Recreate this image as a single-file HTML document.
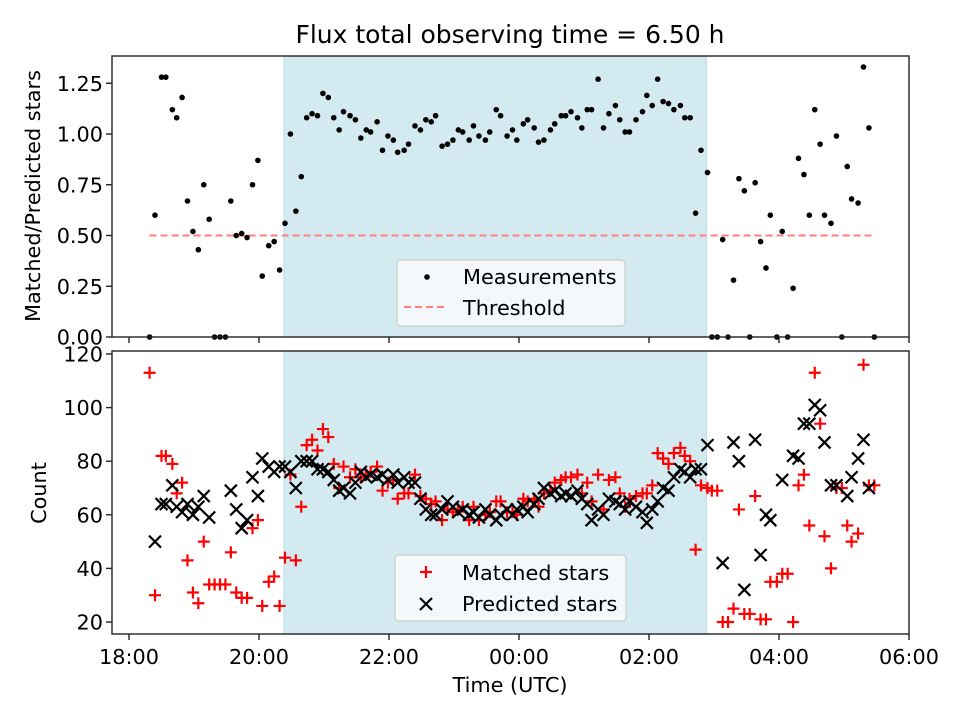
<!DOCTYPE html>
<html><head><meta charset="utf-8"><style>
html,body{margin:0;padding:0;background:#fff;}
svg{display:block;font-family:"DejaVu Sans","Liberation Sans",sans-serif;}
</style></head><body>
<svg id="chart" width="960" height="720" viewBox="0 0 960 720" xmlns="http://www.w3.org/2000/svg">
<rect width="960" height="720" fill="#fff"/>
<text x="510" y="43" font-size="25" text-anchor="middle">Flux total observing time = 6.50 h</text>
<g id="topPanel"></g><g id="botPanel"></g>
<text transform="translate(40,196) rotate(-90)" font-size="20.8" text-anchor="middle">Matched/Predicted stars</text>
<text transform="translate(46,493) rotate(-90)" font-size="20.8" text-anchor="middle">Count</text>
<text x="510" y="692" font-size="20.8" text-anchor="middle">Time (UTC)</text>
</svg>
<script>
// minutes since 18:00
const times = [19,24,30,34,40,44,49,54,59,64,69,74,79,84,89,94,99,104,109,114,119,123,129,134,139,144,149,154,159,164,169,174,179,184,
189,194,198,204,209,214,219,223,229,234,239,244,248,254,258,264,269,274,279,283,289,294,299,304,308,314,318,323,329,333,339,343,349,354,358,364,368,374,378,383,389,393,399,403,408,414,418,423,427,433,438,443,449,453,458,462,468,474,478,483,488,493,498,503,509,513,518,523,528,
534,538,543,548,553,558,563,568,573,578,583,588,592,598,603,608,613,618,623,628,633,638,642,648,653,658,663,667,673,678,683,688];
const ratio = [0,0.60,1.28,1.28,1.12,1.08,1.18,0.67,0.52,0.43,0.75,0.58,0,0,0,0.67,0.50,0.51,0.49,0.75,0.87,0.30,0.45,0.47,0.33,0.56,1.00,0.62,0.79,1.08,1.10,1.09,1.20,1.18,
1.08,1.02,1.11,1.09,1.07,0.98,1.02,1.01,1.06,0.92,0.99,0.97,0.91,0.92,0.95,1.04,1.02,1.07,1.06,1.09,0.94,0.95,0.97,1.02,1.01,0.97,1.04,0.99,0.97,1.01,1.12,1.09,0.99,1.02,0.97,1.05,1.07,1.03,0.96,0.97,1.02,1.05,1.09,1.09,1.11,1.08,1.03,1.12,1.12,1.27,1.03,1.10,1.14,1.07,1.01,1.01,1.07,1.11,1.19,1.14,1.27,1.16,1.15,1.12,1.14,1.08,1.08,0.61,0.92,
0.81,0,0,0.48,0,0.28,0.78,0.72,0,0.76,0.47,0.34,0.60,0,0.52,0,0.24,0.88,0.80,0.60,1.12,0.95,0.60,0.56,0.99,0,0.84,0.68,0.66,1.33,1.03,0];
const matched = [113,30,82,82,79,68,72,43,31,27,50,34,34,34,34,46,31,29,29,55,58,26,35,37,26,44,75,43,63,86,88,84,92,89,
79,70,78,74,77,74,75,76,78,69,72,73,66,68,68,75,67,66,64,65,58,62,61,62,63,58,63,58,60,61,65,65,61,61,60,66,65,66,63,68,69,72,73,74,74,75,68,72,65,75,62,73,74,68,63,66,67,68,68,71,83,81,79,83,85,82,80,47,71,
70,69,69,20,20,25,62,23,23,67,21,21,35,35,38,38,20,71,75,56,113,94,52,40,70,70,56,50,53,116,71,71];
const predicted = [null,50,64,64,71,63,61,64,60,63,67,59,null,null,null,69,62,55,58,74,67,81,78,76,78,78,76,70,80,80,80,77,77,76,
73,69,70,68,72,76,74,75,74,75,73,75,72,74,72,72,66,62,60,60,62,65,63,61,62,60,61,59,62,60,58,60,62,60,62,63,61,64,66,70,68,69,67,68,67,69,66,64,58,62,60,66,65,64,62,65,63,61,57,62,65,70,69,74,77,76,74,77,77,
86,null,null,42,null,87,80,32,null,88,45,60,58,null,73,null,82,81,94,94,101,99,87,71,71,null,67,74,81,88,70,null];
const threshold = 0.5;
const shadeStart = 143, shadeEnd = 533;
const xTickLabels = ["18:00","20:00","22:00","00:00","02:00","04:00","06:00"];
const xTickMinutes = [0,120,240,360,480,600,720];
const topTicks = [0,0.25,0.5,0.75,1.0,1.25];
const topTickLabels = ["0.00","0.25","0.50","0.75","1.00","1.25"];
const botTicks = [20,40,60,80,100,120];

const NS="http://www.w3.org/2000/svg";
const L=112,R=909;
const X=m=>129+m*65/60;
const T0=56,T1=337, yT=v=>T1-203*v;
const B0=351,B1=634, yB=v=>622-(v-20)*2.68;
function mk(parent,tag,attrs){const e=document.createElementNS(NS,tag);for(const k in attrs)e.setAttribute(k,attrs[k]);parent.appendChild(e);return e;}
const gTop=document.getElementById('topPanel'), gBot=document.getElementById('botPanel');

function axes(g,y0,y1,name){
  const s=mk(g,'rect',{x:X(shadeStart),y:y0,width:X(shadeEnd)-X(shadeStart),height:y1-y0,fill:'#d4eaf1',stroke:'#b9dbe7','stroke-width':1});
  
  
  xTickMinutes.forEach((m,i)=>{
    const t=mk(g,'line',{x1:X(m),x2:X(m),y1:y1,y2:y1+6,stroke:'#222','stroke-width':1.4});
    
    
  });
}
function frame(g,y0,y1,name){
  const f=mk(g,'rect',{x:L,y:y0,width:R-L,height:y1-y0,fill:'none',stroke:'#222','stroke-width':1.4});
  
  
}
// TOP
axes(gTop,T0,T1,'top');
const th=mk(gTop,'line',{x1:X(times[0]),x2:X(times[times.length-1]),y1:yT(threshold),y2:yT(threshold),stroke:'#ff7f7f','stroke-width':2,'stroke-dasharray':'7,4'});


times.forEach((m,i)=>{
  const c=mk(gTop,'circle',{cx:X(m),cy:yT(ratio[i]),r:2.8,fill:'#000'});
  
  
});
topTicks.forEach((v,i)=>{
  mk(gTop,'line',{x1:L-6,x2:L,y1:yT(v),y2:yT(v),stroke:'#222','stroke-width':1.4});
  const t=mk(gTop,'text',{x:L-9,y:yT(v)+7.5,'font-size':20.8,'text-anchor':'end'});
  t.textContent=topTickLabels[i];
  
  
});
frame(gTop,T0,T1,'top');
// BOTTOM
axes(gBot,B0,B1,'bottom');
times.forEach((m,i)=>{
  const cx=X(m), cy=yB(matched[i]);
  const p=mk(gBot,'path',{d:`M${cx-6},${cy}H${cx+6}M${cx},${cy-6}V${cy+6}`,stroke:'#ff0000','stroke-width':2.2});
  
  
});
times.forEach((m,i)=>{
  if(predicted[i]===null)return;
  const cx=X(m), cy=yB(predicted[i]);
  const p=mk(gBot,'path',{d:`M${cx-6},${cy-6}L${cx+6},${cy+6}M${cx-6},${cy+6}L${cx+6},${cy-6}`,stroke:'#000','stroke-width':2.2});
  
  
});
botTicks.forEach(v=>{
  mk(gBot,'line',{x1:L-6,x2:L,y1:yB(v),y2:yB(v),stroke:'#222','stroke-width':1.4});
  const t=mk(gBot,'text',{x:L-9,y:yB(v)+7.5,'font-size':20.8,'text-anchor':'end'});
  t.textContent=v;
  
  
});
xTickMinutes.forEach((m,i)=>{
  const t=mk(gBot,'text',{x:X(m),y:664,'font-size':20.8,'text-anchor':'middle'});
  t.textContent=xTickLabels[i];
  
  
});
frame(gBot,B0,B1,'bottom');
// legends
function legend(g,x,y,w,h,name){
  const r=mk(g,'rect',{x:x,y:y,width:w,height:h,rx:4,fill:'#f7fafc','fill-opacity':0.9,stroke:'#cccccc','stroke-width':1.2});
  
  
}
legend(gTop,397,260,228,66,'top-legend');
const ld=mk(gTop,'circle',{cx:427,cy:277,r:2.8,fill:'#000'});


let t1=mk(gTop,'text',{x:463,y:284,'font-size':20.8});t1.textContent='Measurements';


const ll=mk(gTop,'line',{x1:404,x2:448,y1:307,y2:307,stroke:'#ff7f7f','stroke-width':2,'stroke-dasharray':'7,4'});


let t2=mk(gTop,'text',{x:463,y:315,'font-size':20.8});t2.textContent='Threshold';



legend(gBot,395,555,231,66,'bottom-legend');
const lp=mk(gBot,'path',{d:'M420,572H432M426,566V578',stroke:'#ff0000','stroke-width':2.2});


let t3=mk(gBot,'text',{x:462,y:580,'font-size':20.8});t3.textContent='Matched stars';


const lx=mk(gBot,'path',{d:'M420,598L432,610M420,610L432,598',stroke:'#000','stroke-width':2.2});


let t4=mk(gBot,'text',{x:462,y:611,'font-size':20.8});t4.textContent='Predicted stars';


</script>
</body></html>
